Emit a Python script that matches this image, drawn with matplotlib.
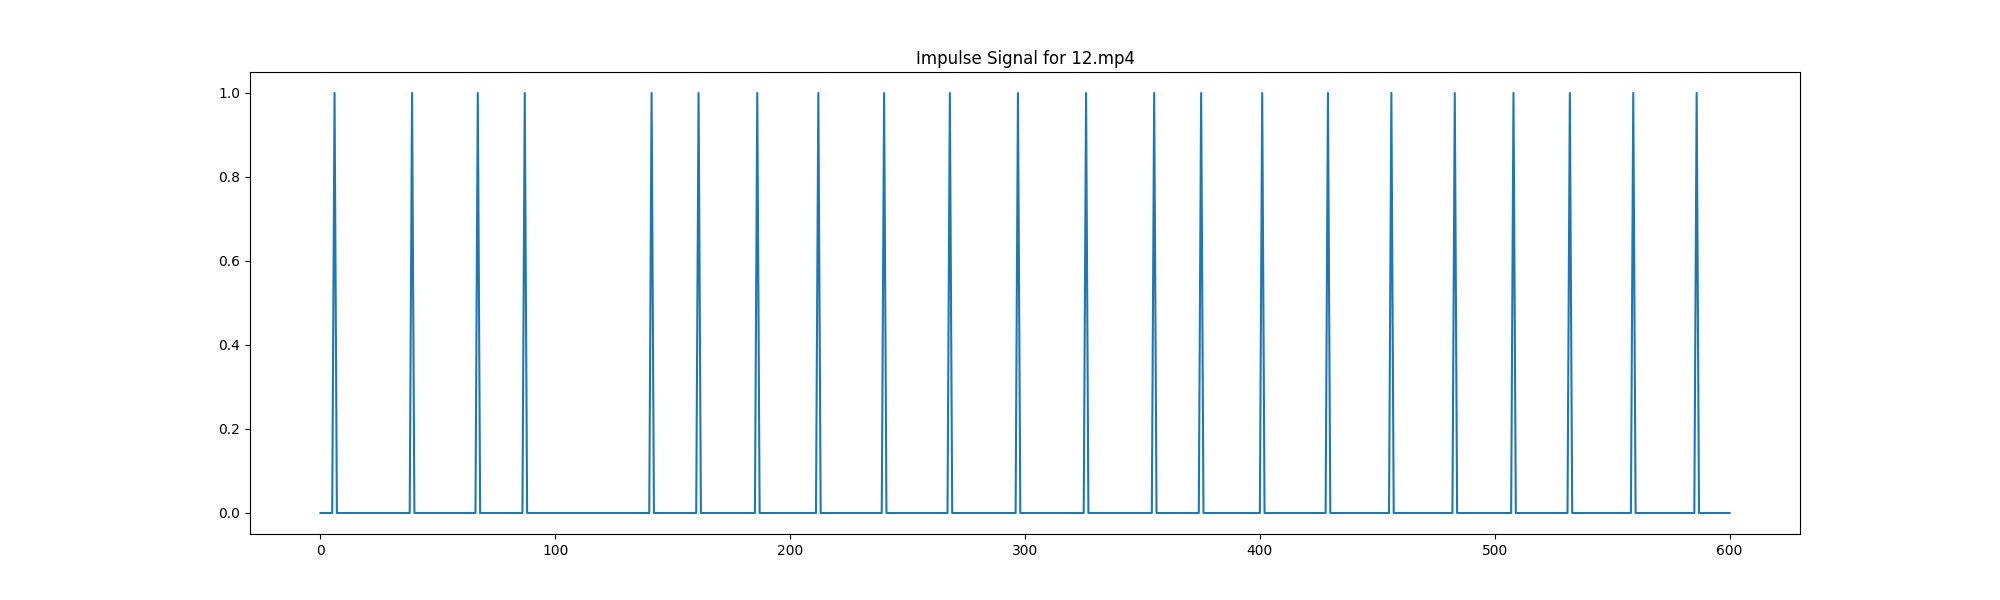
import numpy as np
import matplotlib
matplotlib.use("Agg")
import matplotlib.pyplot as plt

NAME = "12.mp4"
N_FRAMES = 601
impulse_frames = [6, 39, 67, 87, 141, 161, 186, 212, 240, 268, 297, 326,
                  355, 375, 401, 429, 456, 483, 508, 532, 559, 586]

signal = np.zeros(N_FRAMES)
signal[impulse_frames] = 1

plt.figure(figsize=(20, 6), dpi=100)
plt.plot(signal)
plt.title(f"Impulse Signal for {NAME}")
plt.savefig("out.png")
